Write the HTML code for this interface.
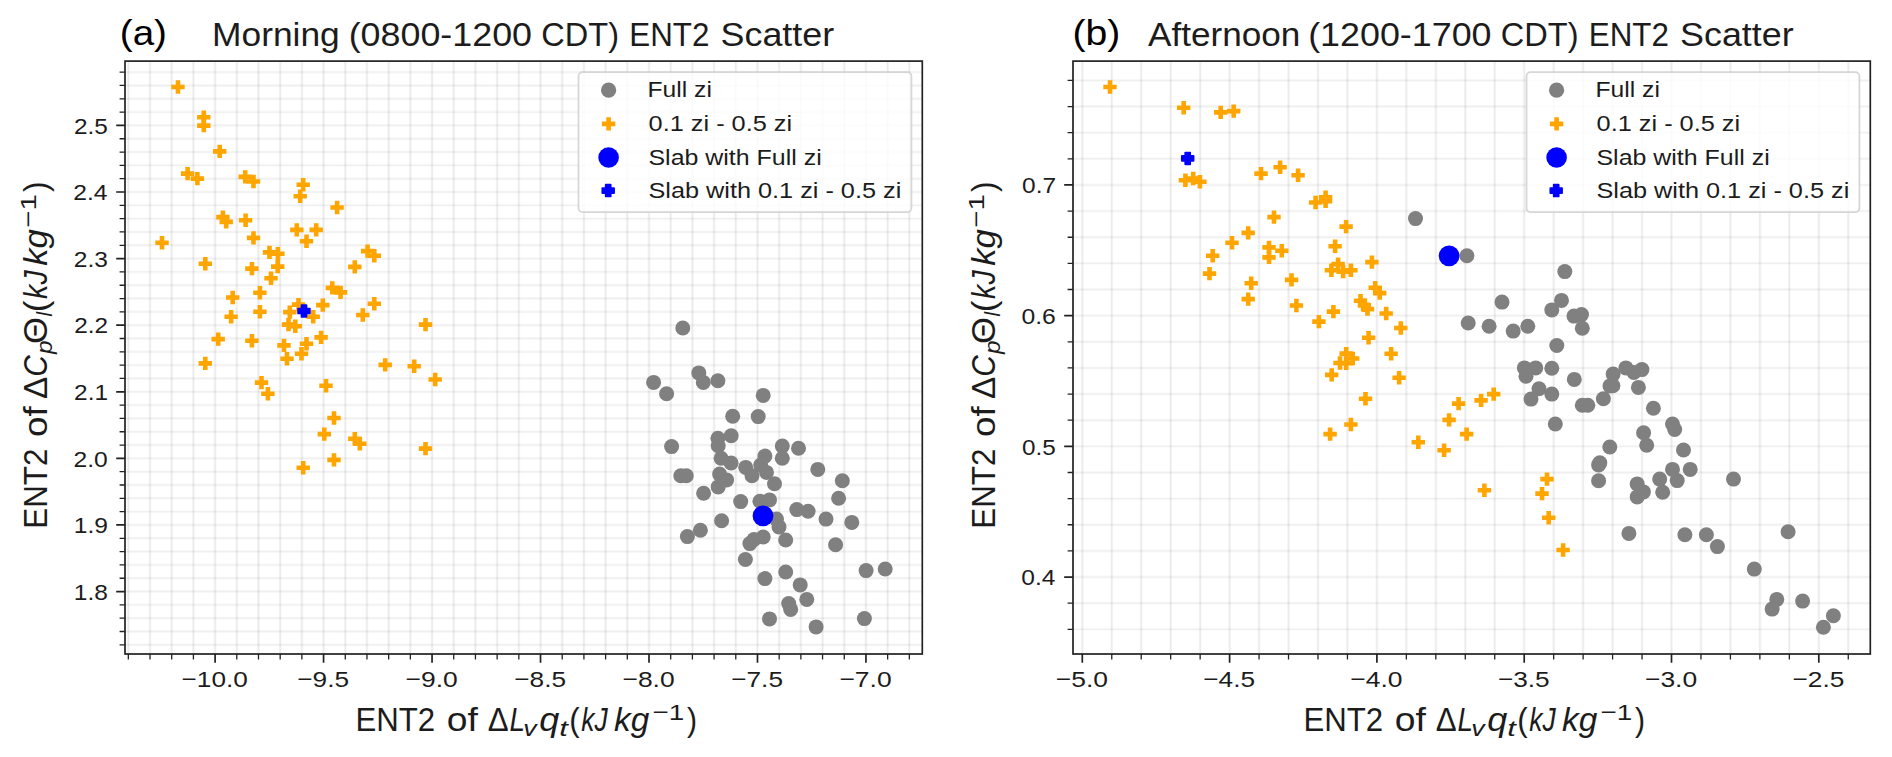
<!DOCTYPE html>
<html><head><meta charset="utf-8"><title>ENT2 Scatter</title>
<style>html,body{margin:0;padding:0;background:#fff}body{width:1892px;height:757px;overflow:hidden;font-family:"Liberation Sans",sans-serif}svg{display:block}</style>
</head><body>
<svg width="1892" height="757" viewBox="0 0 1892 757">
<rect width="1892" height="757" fill="#fff"/>
<g id="chart1">
<clipPath id="clip1"><rect x="125" y="61.1" width="797.3" height="592.9"/></clipPath>
<g clip-path="url(#clip1)">
<path d="M215.1 61.1V654M323.57 61.1V654M432.05 61.1V654M540.52 61.1V654M649 61.1V654M757.48 61.1V654M865.95 61.1V654M128.32 61.1V654M150.01 61.1V654M171.71 61.1V654M193.41 61.1V654M236.79 61.1V654M258.49 61.1V654M280.19 61.1V654M301.88 61.1V654M345.27 61.1V654M366.96 61.1V654M388.66 61.1V654M410.36 61.1V654M453.74 61.1V654M475.44 61.1V654M497.14 61.1V654M518.83 61.1V654M562.22 61.1V654M583.91 61.1V654M605.61 61.1V654M627.31 61.1V654M670.69 61.1V654M692.39 61.1V654M714.08 61.1V654M735.78 61.1V654M779.17 61.1V654M800.87 61.1V654M822.56 61.1V654M844.26 61.1V654M887.64 61.1V654M909.34 61.1V654" stroke="#000" stroke-opacity="0.032" stroke-width="3" fill="none"/><path d="M215.1 61.1V654M323.57 61.1V654M432.05 61.1V654M540.52 61.1V654M649 61.1V654M757.48 61.1V654M865.95 61.1V654M128.32 61.1V654M150.01 61.1V654M171.71 61.1V654M193.41 61.1V654M236.79 61.1V654M258.49 61.1V654M280.19 61.1V654M301.88 61.1V654M345.27 61.1V654M366.96 61.1V654M388.66 61.1V654M410.36 61.1V654M453.74 61.1V654M475.44 61.1V654M497.14 61.1V654M518.83 61.1V654M562.22 61.1V654M583.91 61.1V654M605.61 61.1V654M627.31 61.1V654M670.69 61.1V654M692.39 61.1V654M714.08 61.1V654M735.78 61.1V654M779.17 61.1V654M800.87 61.1V654M822.56 61.1V654M844.26 61.1V654M887.64 61.1V654M909.34 61.1V654" stroke="#000" stroke-opacity="0.048" stroke-width="1.4" fill="none"/>
<path d="M125 591.55H922.3M125 524.96H922.3M125 458.37H922.3M125 391.78H922.3M125 325.19H922.3M125 258.6H922.3M125 192.01H922.3M125 125.42H922.3M125 644.82H922.3M125 631.5H922.3M125 618.19H922.3M125 604.87H922.3M125 578.23H922.3M125 564.91H922.3M125 551.6H922.3M125 538.28H922.3M125 511.64H922.3M125 498.32H922.3M125 485.01H922.3M125 471.69H922.3M125 445.05H922.3M125 431.73H922.3M125 418.42H922.3M125 405.1H922.3M125 378.46H922.3M125 365.14H922.3M125 351.83H922.3M125 338.51H922.3M125 311.87H922.3M125 298.55H922.3M125 285.24H922.3M125 271.92H922.3M125 245.28H922.3M125 231.96H922.3M125 218.65H922.3M125 205.33H922.3M125 178.69H922.3M125 165.37H922.3M125 152.06H922.3M125 138.74H922.3M125 112.1H922.3M125 98.78H922.3M125 85.47H922.3M125 72.15H922.3" stroke="#000" stroke-opacity="0.024" stroke-width="3" fill="none"/><path d="M125 591.55H922.3M125 524.96H922.3M125 458.37H922.3M125 391.78H922.3M125 325.19H922.3M125 258.6H922.3M125 192.01H922.3M125 125.42H922.3M125 644.82H922.3M125 631.5H922.3M125 618.19H922.3M125 604.87H922.3M125 578.23H922.3M125 564.91H922.3M125 551.6H922.3M125 538.28H922.3M125 511.64H922.3M125 498.32H922.3M125 485.01H922.3M125 471.69H922.3M125 445.05H922.3M125 431.73H922.3M125 418.42H922.3M125 405.1H922.3M125 378.46H922.3M125 365.14H922.3M125 351.83H922.3M125 338.51H922.3M125 311.87H922.3M125 298.55H922.3M125 285.24H922.3M125 271.92H922.3M125 245.28H922.3M125 231.96H922.3M125 218.65H922.3M125 205.33H922.3M125 178.69H922.3M125 165.37H922.3M125 152.06H922.3M125 138.74H922.3M125 112.1H922.3M125 98.78H922.3M125 85.47H922.3M125 72.15H922.3" stroke="#000" stroke-opacity="0.034" stroke-width="1.4" fill="none"/>
<g fill="#808080"><circle cx="682.8" cy="328" r="7.5"/><circle cx="698.8" cy="372.9" r="7.5"/><circle cx="653.6" cy="382.4" r="7.5"/><circle cx="703.3" cy="382.4" r="7.5"/><circle cx="717.9" cy="380.8" r="7.5"/><circle cx="666.6" cy="393.7" r="7.5"/><circle cx="763.2" cy="395.4" r="7.5"/><circle cx="732.7" cy="416.2" r="7.5"/><circle cx="758.2" cy="416.6" r="7.5"/><circle cx="731.2" cy="435.8" r="7.5"/><circle cx="717.9" cy="438.3" r="7.5"/><circle cx="718.2" cy="445.8" r="7.5"/><circle cx="671.6" cy="446.6" r="7.5"/><circle cx="782.3" cy="446.1" r="7.5"/><circle cx="798.5" cy="448.3" r="7.5"/><circle cx="764.9" cy="456.1" r="7.5"/><circle cx="782.3" cy="458.3" r="7.5"/><circle cx="721.1" cy="458.3" r="7.5"/><circle cx="731.1" cy="463" r="7.5"/><circle cx="745.7" cy="467.4" r="7.5"/><circle cx="760.7" cy="465" r="7.5"/><circle cx="817.8" cy="469.4" r="7.5"/><circle cx="766.5" cy="472.4" r="7.5"/><circle cx="752" cy="475.8" r="7.5"/><circle cx="719.6" cy="474.1" r="7.5"/><circle cx="680.8" cy="475.8" r="7.5"/><circle cx="686.3" cy="475.8" r="7.5"/><circle cx="726.6" cy="479.9" r="7.5"/><circle cx="842.3" cy="480.8" r="7.5"/><circle cx="774.5" cy="483.8" r="7.5"/><circle cx="718.2" cy="486.9" r="7.5"/><circle cx="703.6" cy="493.3" r="7.5"/><circle cx="838.6" cy="498.3" r="7.5"/><circle cx="740.7" cy="501.6" r="7.5"/><circle cx="759.9" cy="501.2" r="7.5"/><circle cx="769.5" cy="499.9" r="7.5"/><circle cx="796.8" cy="509.6" r="7.5"/><circle cx="808.1" cy="511.2" r="7.5"/><circle cx="776.5" cy="519.1" r="7.5"/><circle cx="826" cy="519.1" r="7.5"/><circle cx="721.6" cy="520.7" r="7.5"/><circle cx="851.8" cy="522.4" r="7.5"/><circle cx="779" cy="526.9" r="7.5"/><circle cx="700.4" cy="530.2" r="7.5"/><circle cx="687.4" cy="536.6" r="7.5"/><circle cx="763.2" cy="537" r="7.5"/><circle cx="754" cy="539.5" r="7.5"/><circle cx="749.9" cy="543.6" r="7.5"/><circle cx="785.7" cy="540" r="7.5"/><circle cx="835.6" cy="544.8" r="7.5"/><circle cx="745.4" cy="559.5" r="7.5"/><circle cx="885.2" cy="569" r="7.5"/><circle cx="866.1" cy="570.6" r="7.5"/><circle cx="785.7" cy="572" r="7.5"/><circle cx="764.9" cy="578.6" r="7.5"/><circle cx="800.2" cy="584.9" r="7.5"/><circle cx="806.8" cy="599.4" r="7.5"/><circle cx="788.7" cy="603.6" r="7.5"/><circle cx="790.7" cy="609.4" r="7.5"/><circle cx="769.5" cy="618.9" r="7.5"/><circle cx="864.4" cy="618.6" r="7.5"/><circle cx="816.1" cy="626.9" r="7.5"/></g>
<g><path d="M175.7 80.3h4.6v4.4h4.4v4.6h-4.4v4.4h-4.6v-4.4h-4.4v-4.6h4.4z" fill="#ffa500"/><path d="M201.5 110.6h4.6v4.4h4.4v4.6h-4.4v4.4h-4.6v-4.4h-4.4v-4.6h4.4z" fill="#ffa500"/><path d="M201.5 118.9h4.6v4.4h4.4v4.6h-4.4v4.4h-4.6v-4.4h-4.4v-4.6h4.4z" fill="#ffa500"/><path d="M217.4 144.7h4.6v4.4h4.4v4.6h-4.4v4.4h-4.6v-4.4h-4.4v-4.6h4.4z" fill="#ffa500"/><path d="M185.3 166.9h4.6v4.4h4.4v4.6h-4.4v4.4h-4.6v-4.4h-4.4v-4.6h4.4z" fill="#ffa500"/><path d="M195.1 171.9h4.6v4.4h4.4v4.6h-4.4v4.4h-4.6v-4.4h-4.4v-4.6h4.4z" fill="#ffa500"/><path d="M242.9 170.2h4.6v4.4h4.4v4.6h-4.4v4.4h-4.6v-4.4h-4.4v-4.6h4.4z" fill="#ffa500"/><path d="M251.2 174.8h4.6v4.4h4.4v4.6h-4.4v4.4h-4.6v-4.4h-4.4v-4.6h4.4z" fill="#ffa500"/><path d="M300.9 178.1h4.6v4.4h4.4v4.6h-4.4v4.4h-4.6v-4.4h-4.4v-4.6h4.4z" fill="#ffa500"/><path d="M297.9 189.6h4.6v4.4h4.4v4.6h-4.4v4.4h-4.6v-4.4h-4.4v-4.6h4.4z" fill="#ffa500"/><path d="M334.8 200.8h4.6v4.4h4.4v4.6h-4.4v4.4h-4.6v-4.4h-4.4v-4.6h4.4z" fill="#ffa500"/><path d="M220.6 210.4h4.6v4.4h4.4v4.6h-4.4v4.4h-4.6v-4.4h-4.4v-4.6h4.4z" fill="#ffa500"/><path d="M223.9 215.2h4.6v4.4h4.4v4.6h-4.4v4.4h-4.6v-4.4h-4.4v-4.6h4.4z" fill="#ffa500"/><path d="M243.3 213.6h4.6v4.4h4.4v4.6h-4.4v4.4h-4.6v-4.4h-4.4v-4.6h4.4z" fill="#ffa500"/><path d="M294.5 223.2h4.6v4.4h4.4v4.6h-4.4v4.4h-4.6v-4.4h-4.4v-4.6h4.4z" fill="#ffa500"/><path d="M313.9 223.2h4.6v4.4h4.4v4.6h-4.4v4.4h-4.6v-4.4h-4.4v-4.6h4.4z" fill="#ffa500"/><path d="M251.2 231.2h4.6v4.4h4.4v4.6h-4.4v4.4h-4.6v-4.4h-4.4v-4.6h4.4z" fill="#ffa500"/><path d="M304.2 234.6h4.6v4.4h4.4v4.6h-4.4v4.4h-4.6v-4.4h-4.4v-4.6h4.4z" fill="#ffa500"/><path d="M159.7 236.1h4.6v4.4h4.4v4.6h-4.4v4.4h-4.6v-4.4h-4.4v-4.6h4.4z" fill="#ffa500"/><path d="M267.2 245.7h4.6v4.4h4.4v4.6h-4.4v4.4h-4.6v-4.4h-4.4v-4.6h4.4z" fill="#ffa500"/><path d="M275.6 247.1h4.6v4.4h4.4v4.6h-4.4v4.4h-4.6v-4.4h-4.4v-4.6h4.4z" fill="#ffa500"/><path d="M365.3 244.4h4.6v4.4h4.4v4.6h-4.4v4.4h-4.6v-4.4h-4.4v-4.6h4.4z" fill="#ffa500"/><path d="M372 249h4.6v4.4h4.4v4.6h-4.4v4.4h-4.6v-4.4h-4.4v-4.6h4.4z" fill="#ffa500"/><path d="M203 257h4.6v4.4h4.4v4.6h-4.4v4.4h-4.6v-4.4h-4.4v-4.6h4.4z" fill="#ffa500"/><path d="M275.4 259.9h4.6v4.4h4.4v4.6h-4.4v4.4h-4.6v-4.4h-4.4v-4.6h4.4z" fill="#ffa500"/><path d="M352.5 260.2h4.6v4.4h4.4v4.6h-4.4v4.4h-4.6v-4.4h-4.4v-4.6h4.4z" fill="#ffa500"/><path d="M249.6 261.9h4.6v4.4h4.4v4.6h-4.4v4.4h-4.6v-4.4h-4.4v-4.6h4.4z" fill="#ffa500"/><path d="M268.7 271.5h4.6v4.4h4.4v4.6h-4.4v4.4h-4.6v-4.4h-4.4v-4.6h4.4z" fill="#ffa500"/><path d="M330 281.2h4.6v4.4h4.4v4.6h-4.4v4.4h-4.6v-4.4h-4.4v-4.6h4.4z" fill="#ffa500"/><path d="M338.3 285.7h4.6v4.4h4.4v4.6h-4.4v4.4h-4.6v-4.4h-4.4v-4.6h4.4z" fill="#ffa500"/><path d="M257.6 286h4.6v4.4h4.4v4.6h-4.4v4.4h-4.6v-4.4h-4.4v-4.6h4.4z" fill="#ffa500"/><path d="M230.4 290.8h4.6v4.4h4.4v4.6h-4.4v4.4h-4.6v-4.4h-4.4v-4.6h4.4z" fill="#ffa500"/><path d="M296.2 297.9h4.6v4.4h4.4v4.6h-4.4v4.4h-4.6v-4.4h-4.4v-4.6h4.4z" fill="#ffa500"/><path d="M320.5 298.4h4.6v4.4h4.4v4.6h-4.4v4.4h-4.6v-4.4h-4.4v-4.6h4.4z" fill="#ffa500"/><path d="M372 297.1h4.6v4.4h4.4v4.6h-4.4v4.4h-4.6v-4.4h-4.4v-4.6h4.4z" fill="#ffa500"/><path d="M257.6 305.1h4.6v4.4h4.4v4.6h-4.4v4.4h-4.6v-4.4h-4.4v-4.6h4.4z" fill="#ffa500"/><path d="M287.5 305.4h4.6v4.4h4.4v4.6h-4.4v4.4h-4.6v-4.4h-4.4v-4.6h4.4z" fill="#ffa500"/><path d="M310.9 310.1h4.6v4.4h4.4v4.6h-4.4v4.4h-4.6v-4.4h-4.4v-4.6h4.4z" fill="#ffa500"/><path d="M228.8 310.1h4.6v4.4h4.4v4.6h-4.4v4.4h-4.6v-4.4h-4.4v-4.6h4.4z" fill="#ffa500"/><path d="M360.5 308.3h4.6v4.4h4.4v4.6h-4.4v4.4h-4.6v-4.4h-4.4v-4.6h4.4z" fill="#ffa500"/><path d="M286.2 317.9h4.6v4.4h4.4v4.6h-4.4v4.4h-4.6v-4.4h-4.4v-4.6h4.4z" fill="#ffa500"/><path d="M293 319.6h4.6v4.4h4.4v4.6h-4.4v4.4h-4.6v-4.4h-4.4v-4.6h4.4z" fill="#ffa500"/><path d="M423.2 317.9h4.6v4.4h4.4v4.6h-4.4v4.4h-4.6v-4.4h-4.4v-4.6h4.4z" fill="#ffa500"/><path d="M318.8 330.7h4.6v4.4h4.4v4.6h-4.4v4.4h-4.6v-4.4h-4.4v-4.6h4.4z" fill="#ffa500"/><path d="M215.9 332.4h4.6v4.4h4.4v4.6h-4.4v4.4h-4.6v-4.4h-4.4v-4.6h4.4z" fill="#ffa500"/><path d="M249.6 334.1h4.6v4.4h4.4v4.6h-4.4v4.4h-4.6v-4.4h-4.4v-4.6h4.4z" fill="#ffa500"/><path d="M304.2 337.1h4.6v4.4h4.4v4.6h-4.4v4.4h-4.6v-4.4h-4.4v-4.6h4.4z" fill="#ffa500"/><path d="M281.7 338.7h4.6v4.4h4.4v4.6h-4.4v4.4h-4.6v-4.4h-4.4v-4.6h4.4z" fill="#ffa500"/><path d="M299.2 347.1h4.6v4.4h4.4v4.6h-4.4v4.4h-4.6v-4.4h-4.4v-4.6h4.4z" fill="#ffa500"/><path d="M284.7 352.1h4.6v4.4h4.4v4.6h-4.4v4.4h-4.6v-4.4h-4.4v-4.6h4.4z" fill="#ffa500"/><path d="M203 356.7h4.6v4.4h4.4v4.6h-4.4v4.4h-4.6v-4.4h-4.4v-4.6h4.4z" fill="#ffa500"/><path d="M382.9 358.2h4.6v4.4h4.4v4.6h-4.4v4.4h-4.6v-4.4h-4.4v-4.6h4.4z" fill="#ffa500"/><path d="M411.9 359.5h4.6v4.4h4.4v4.6h-4.4v4.4h-4.6v-4.4h-4.4v-4.6h4.4z" fill="#ffa500"/><path d="M432.9 372.8h4.6v4.4h4.4v4.6h-4.4v4.4h-4.6v-4.4h-4.4v-4.6h4.4z" fill="#ffa500"/><path d="M259.2 375.9h4.6v4.4h4.4v4.6h-4.4v4.4h-4.6v-4.4h-4.4v-4.6h4.4z" fill="#ffa500"/><path d="M323.7 379h4.6v4.4h4.4v4.6h-4.4v4.4h-4.6v-4.4h-4.4v-4.6h4.4z" fill="#ffa500"/><path d="M265.6 387h4.6v4.4h4.4v4.6h-4.4v4.4h-4.6v-4.4h-4.4v-4.6h4.4z" fill="#ffa500"/><path d="M331.7 411.3h4.6v4.4h4.4v4.6h-4.4v4.4h-4.6v-4.4h-4.4v-4.6h4.4z" fill="#ffa500"/><path d="M322 427.4h4.6v4.4h4.4v4.6h-4.4v4.4h-4.6v-4.4h-4.4v-4.6h4.4z" fill="#ffa500"/><path d="M352.5 432.1h4.6v4.4h4.4v4.6h-4.4v4.4h-4.6v-4.4h-4.4v-4.6h4.4z" fill="#ffa500"/><path d="M357.5 437.1h4.6v4.4h4.4v4.6h-4.4v4.4h-4.6v-4.4h-4.4v-4.6h4.4z" fill="#ffa500"/><path d="M423.2 441.9h4.6v4.4h4.4v4.6h-4.4v4.4h-4.6v-4.4h-4.4v-4.6h4.4z" fill="#ffa500"/><path d="M331.7 453.2h4.6v4.4h4.4v4.6h-4.4v4.4h-4.6v-4.4h-4.4v-4.6h4.4z" fill="#ffa500"/><path d="M300.9 461h4.6v4.4h4.4v4.6h-4.4v4.4h-4.6v-4.4h-4.4v-4.6h4.4z" fill="#ffa500"/></g>
<circle cx="763" cy="515.8" r="10.4" fill="#0000ff"/>
<path d="M301.6 305.2h4.8v3.4h3.4v4.8h-3.4v3.4h-4.8v-3.4h-3.4v-4.8h3.4z" fill="#0000ff" stroke="#0000ff" stroke-width="1.9" stroke-linejoin="round"/>
</g>
<path d="M215.1 654v8.8M323.57 654v8.8M432.05 654v8.8M540.52 654v8.8M649 654v8.8M757.48 654v8.8M865.95 654v8.8M125 591.55h-8.8M125 524.96h-8.8M125 458.37h-8.8M125 391.78h-8.8M125 325.19h-8.8M125 258.6h-8.8M125 192.01h-8.8M125 125.42h-8.8" stroke="#222" stroke-width="1.7" fill="none"/>
<path d="M128.32 654v5.4M150.01 654v5.4M171.71 654v5.4M193.41 654v5.4M236.79 654v5.4M258.49 654v5.4M280.19 654v5.4M301.88 654v5.4M345.27 654v5.4M366.96 654v5.4M388.66 654v5.4M410.36 654v5.4M453.74 654v5.4M475.44 654v5.4M497.14 654v5.4M518.83 654v5.4M562.22 654v5.4M583.91 654v5.4M605.61 654v5.4M627.31 654v5.4M670.69 654v5.4M692.39 654v5.4M714.08 654v5.4M735.78 654v5.4M779.17 654v5.4M800.87 654v5.4M822.56 654v5.4M844.26 654v5.4M887.64 654v5.4M909.34 654v5.4M125 644.82h-5.4M125 631.5h-5.4M125 618.19h-5.4M125 604.87h-5.4M125 578.23h-5.4M125 564.91h-5.4M125 551.6h-5.4M125 538.28h-5.4M125 511.64h-5.4M125 498.32h-5.4M125 485.01h-5.4M125 471.69h-5.4M125 445.05h-5.4M125 431.73h-5.4M125 418.42h-5.4M125 405.1h-5.4M125 378.46h-5.4M125 365.14h-5.4M125 351.83h-5.4M125 338.51h-5.4M125 311.87h-5.4M125 298.55h-5.4M125 285.24h-5.4M125 271.92h-5.4M125 245.28h-5.4M125 231.96h-5.4M125 218.65h-5.4M125 205.33h-5.4M125 178.69h-5.4M125 165.37h-5.4M125 152.06h-5.4M125 138.74h-5.4M125 112.1h-5.4M125 98.78h-5.4M125 85.47h-5.4M125 72.15h-5.4" stroke="#222" stroke-width="1.3" fill="none"/>
<rect x="125" y="61.1" width="797.3" height="592.9" fill="none" stroke="#222" stroke-width="1.7"/>
<text x="181.55" y="686.9" font-family="Liberation Sans, sans-serif" font-size="22.7" fill="#1c1c1c" textLength="66.23" lengthAdjust="spacingAndGlyphs">−10.0</text>
<text x="297.29" y="686.9" font-family="Liberation Sans, sans-serif" font-size="22.7" fill="#1c1c1c" textLength="51.79" lengthAdjust="spacingAndGlyphs">−9.5</text>
<text x="405.52" y="686.9" font-family="Liberation Sans, sans-serif" font-size="22.7" fill="#1c1c1c" textLength="52.19" lengthAdjust="spacingAndGlyphs">−9.0</text>
<text x="514.24" y="686.9" font-family="Liberation Sans, sans-serif" font-size="22.7" fill="#1c1c1c" textLength="51.79" lengthAdjust="spacingAndGlyphs">−8.5</text>
<text x="622.47" y="686.9" font-family="Liberation Sans, sans-serif" font-size="22.7" fill="#1c1c1c" textLength="52.19" lengthAdjust="spacingAndGlyphs">−8.0</text>
<text x="731.19" y="686.9" font-family="Liberation Sans, sans-serif" font-size="22.7" fill="#1c1c1c" textLength="51.79" lengthAdjust="spacingAndGlyphs">−7.5</text>
<text x="839.42" y="686.9" font-family="Liberation Sans, sans-serif" font-size="22.7" fill="#1c1c1c" textLength="52.19" lengthAdjust="spacingAndGlyphs">−7.0</text>
<text x="73.72" y="599.75" font-family="Liberation Sans, sans-serif" font-size="22.7" fill="#1c1c1c" textLength="34.15" lengthAdjust="spacingAndGlyphs">1.8</text>
<text x="73.77" y="533.16" font-family="Liberation Sans, sans-serif" font-size="22.7" fill="#1c1c1c" textLength="34.2" lengthAdjust="spacingAndGlyphs">1.9</text>
<text x="73.5" y="466.57" font-family="Liberation Sans, sans-serif" font-size="22.7" fill="#1c1c1c" textLength="34.26" lengthAdjust="spacingAndGlyphs">2.0</text>
<text x="74.08" y="399.98" font-family="Liberation Sans, sans-serif" font-size="22.7" fill="#1c1c1c" textLength="33.91" lengthAdjust="spacingAndGlyphs">2.1</text>
<text x="74.26" y="333.39" font-family="Liberation Sans, sans-serif" font-size="22.7" fill="#1c1c1c" textLength="33.76" lengthAdjust="spacingAndGlyphs">2.2</text>
<text x="73.81" y="266.8" font-family="Liberation Sans, sans-serif" font-size="22.7" fill="#1c1c1c" textLength="34.07" lengthAdjust="spacingAndGlyphs">2.3</text>
<text x="73.27" y="200.21" font-family="Liberation Sans, sans-serif" font-size="22.7" fill="#1c1c1c" textLength="34.25" lengthAdjust="spacingAndGlyphs">2.4</text>
<text x="73.98" y="133.62" font-family="Liberation Sans, sans-serif" font-size="22.7" fill="#1c1c1c" textLength="33.85" lengthAdjust="spacingAndGlyphs">2.5</text>
<text x="119.81" y="44.5" font-family="Liberation Sans, sans-serif" font-size="35.2" fill="#000" textLength="47.19" lengthAdjust="spacingAndGlyphs">(a)</text>
<text x="212" y="45.8" font-family="Liberation Sans, sans-serif" font-size="32.4" fill="#1c1c1c" textLength="127.78" lengthAdjust="spacingAndGlyphs">Morning</text>
<text x="348.68" y="45.8" font-family="Liberation Sans, sans-serif" font-size="32.4" fill="#1c1c1c" textLength="183.32" lengthAdjust="spacingAndGlyphs">(0800-1200</text>
<text x="541.35" y="45.8" font-family="Liberation Sans, sans-serif" font-size="32.4" fill="#1c1c1c" textLength="77.67" lengthAdjust="spacingAndGlyphs">CDT)</text>
<text x="629.23" y="45.8" font-family="Liberation Sans, sans-serif" font-size="32.4" fill="#1c1c1c" textLength="80.15" lengthAdjust="spacingAndGlyphs">ENT2</text>
<text x="720.57" y="45.8" font-family="Liberation Sans, sans-serif" font-size="32.4" fill="#1c1c1c" textLength="113.62" lengthAdjust="spacingAndGlyphs">Scatter</text>
<text x="355.44" y="731" font-family="Liberation Sans, sans-serif" font-size="32.4" fill="#1c1c1c" textLength="79.73" lengthAdjust="spacingAndGlyphs">ENT2</text>
<text x="446.83" y="731" font-family="Liberation Sans, sans-serif" font-size="32.4" fill="#1c1c1c" textLength="31.11" lengthAdjust="spacingAndGlyphs">of</text>
<text x="487.67" y="731" font-family="Liberation Sans, sans-serif" font-size="32.4" fill="#1c1c1c" textLength="20.88" lengthAdjust="spacingAndGlyphs">Δ</text>
<text x="509.44" y="731" font-family="Liberation Sans, sans-serif" font-size="32.4" font-style="italic" fill="#1c1c1c" textLength="15.5" lengthAdjust="spacingAndGlyphs">L</text>
<text x="523.34" y="736.4" font-family="Liberation Sans, sans-serif" font-size="22.6" font-style="italic" fill="#1c1c1c" textLength="13.38" lengthAdjust="spacingAndGlyphs">v</text>
<text x="539.38" y="731" font-family="Liberation Sans, sans-serif" font-size="32.4" font-style="italic" fill="#1c1c1c" textLength="20.06" lengthAdjust="spacingAndGlyphs">q</text>
<text x="559.19" y="736.4" font-family="Liberation Sans, sans-serif" font-size="22.6" font-style="italic" fill="#1c1c1c" textLength="8.63" lengthAdjust="spacingAndGlyphs">t</text>
<text x="569.26" y="731" font-family="Liberation Sans, sans-serif" font-size="32.4" fill="#1c1c1c" textLength="10.42" lengthAdjust="spacingAndGlyphs">(</text>
<text x="581.36" y="731" font-family="Liberation Sans, sans-serif" font-size="32.4" font-style="italic" fill="#1c1c1c" textLength="26.43" lengthAdjust="spacingAndGlyphs">kJ</text>
<text x="614.05" y="731" font-family="Liberation Sans, sans-serif" font-size="32.4" font-style="italic" fill="#1c1c1c" textLength="35.25" lengthAdjust="spacingAndGlyphs">kg</text>
<text x="652.63" y="720.2" font-family="Liberation Sans, sans-serif" font-size="22.6" fill="#1c1c1c" textLength="31.73" lengthAdjust="spacingAndGlyphs">−1</text>
<text x="687.12" y="731" font-family="Liberation Sans, sans-serif" font-size="32.4" fill="#1c1c1c" textLength="10.05" lengthAdjust="spacingAndGlyphs">)</text>
<g transform="translate(46.9 526.4) rotate(-90)">
<text x="-2.27" y="0" font-family="Liberation Sans, sans-serif" font-size="32.4" fill="#1c1c1c" textLength="79.94" lengthAdjust="spacingAndGlyphs">ENT2</text>
<text x="89.45" y="0" font-family="Liberation Sans, sans-serif" font-size="32.4" fill="#1c1c1c" textLength="30.8" lengthAdjust="spacingAndGlyphs">of</text>
<text x="127.51" y="0" font-family="Liberation Sans, sans-serif" font-size="32.4" fill="#1c1c1c" textLength="22.31" lengthAdjust="spacingAndGlyphs">Δ</text>
<text x="149.65" y="0" font-family="Liberation Sans, sans-serif" font-size="32.4" font-style="italic" fill="#1c1c1c" textLength="21.59" lengthAdjust="spacingAndGlyphs">C</text>
<text x="172.41" y="5.4" font-family="Liberation Sans, sans-serif" font-size="22.6" font-style="italic" fill="#1c1c1c" textLength="13.58" lengthAdjust="spacingAndGlyphs">p</text>
<text x="182.36" y="0" font-family="Liberation Sans, sans-serif" font-size="32.4" fill="#1c1c1c" textLength="26.89" lengthAdjust="spacingAndGlyphs">Θ</text>
<text x="209.88" y="5.4" font-family="Liberation Sans, sans-serif" font-size="22.6" font-style="italic" fill="#1c1c1c" textLength="4.47" lengthAdjust="spacingAndGlyphs">l</text>
<text x="214.12" y="0" font-family="Liberation Sans, sans-serif" font-size="32.4" fill="#1c1c1c" textLength="11.68" lengthAdjust="spacingAndGlyphs">(</text>
<text x="227.52" y="0" font-family="Liberation Sans, sans-serif" font-size="32.4" font-style="italic" fill="#1c1c1c" textLength="28.65" lengthAdjust="spacingAndGlyphs">kJ</text>
<text x="260.62" y="0" font-family="Liberation Sans, sans-serif" font-size="32.4" font-style="italic" fill="#1c1c1c" textLength="36.68" lengthAdjust="spacingAndGlyphs">kg</text>
<text x="298.75" y="-10.8" font-family="Liberation Sans, sans-serif" font-size="22.6" fill="#1c1c1c" textLength="33.48" lengthAdjust="spacingAndGlyphs">−1</text>
<text x="334.41" y="0" font-family="Liberation Sans, sans-serif" font-size="32.4" fill="#1c1c1c" textLength="10.55" lengthAdjust="spacingAndGlyphs">)</text>
</g>
<rect x="578.5" y="72.1" width="332.9" height="140.0" rx="4" ry="4" fill="#fff" fill-opacity="0.8" stroke="#ccc" stroke-opacity="0.8" stroke-width="1.8"/>
<circle cx="608.6" cy="90.2" r="7.6" fill="#808080"/>
<path d="M606.3 117.2h4.6v4.4h4.4v4.6h-4.4v4.4h-4.6v-4.4h-4.4v-4.6h4.4z" fill="#ffa500"/>
<circle cx="608.6" cy="157.5" r="10.3" fill="#0000ff"/>
<path d="M605.8 184.8h4.8v3.4h3.4v4.8h-3.4v3.4h-4.8v-3.4h-3.4v-4.8h3.4z" fill="#0000ff" stroke="#0000ff" stroke-width="1.9" stroke-linejoin="round"/>
<text x="647.58" y="97" font-family="Liberation Sans, sans-serif" font-size="22.7" fill="#1c1c1c" textLength="64.28" lengthAdjust="spacingAndGlyphs">Full zi</text>
<text x="648.61" y="130.8" font-family="Liberation Sans, sans-serif" font-size="22.7" fill="#1c1c1c" textLength="143.49" lengthAdjust="spacingAndGlyphs">0.1 zi - 0.5 zi</text>
<text x="648.47" y="164.5" font-family="Liberation Sans, sans-serif" font-size="22.7" fill="#1c1c1c" textLength="173.21" lengthAdjust="spacingAndGlyphs">Slab with Full zi</text>
<text x="648.45" y="198" font-family="Liberation Sans, sans-serif" font-size="22.7" fill="#1c1c1c" textLength="252.85" lengthAdjust="spacingAndGlyphs">Slab with 0.1 zi - 0.5 zi</text>
</g>
<g id="chart2">
<clipPath id="clip2"><rect x="1073" y="61.1" width="797.3" height="592.9"/></clipPath>
<g clip-path="url(#clip2)">
<path d="M1082.3 61.1V654M1229.6 61.1V654M1376.9 61.1V654M1524.2 61.1V654M1671.5 61.1V654M1818.8 61.1V654M1111.76 61.1V654M1141.22 61.1V654M1170.68 61.1V654M1200.14 61.1V654M1259.06 61.1V654M1288.52 61.1V654M1317.98 61.1V654M1347.44 61.1V654M1406.36 61.1V654M1435.82 61.1V654M1465.28 61.1V654M1494.74 61.1V654M1553.66 61.1V654M1583.12 61.1V654M1612.58 61.1V654M1642.04 61.1V654M1700.96 61.1V654M1730.42 61.1V654M1759.88 61.1V654M1789.34 61.1V654M1848.26 61.1V654" stroke="#000" stroke-opacity="0.032" stroke-width="3" fill="none"/><path d="M1082.3 61.1V654M1229.6 61.1V654M1376.9 61.1V654M1524.2 61.1V654M1671.5 61.1V654M1818.8 61.1V654M1111.76 61.1V654M1141.22 61.1V654M1170.68 61.1V654M1200.14 61.1V654M1259.06 61.1V654M1288.52 61.1V654M1317.98 61.1V654M1347.44 61.1V654M1406.36 61.1V654M1435.82 61.1V654M1465.28 61.1V654M1494.74 61.1V654M1553.66 61.1V654M1583.12 61.1V654M1612.58 61.1V654M1642.04 61.1V654M1700.96 61.1V654M1730.42 61.1V654M1759.88 61.1V654M1789.34 61.1V654M1848.26 61.1V654" stroke="#000" stroke-opacity="0.048" stroke-width="1.4" fill="none"/>
<path d="M1073 577.05H1870.3M1073 446.35H1870.3M1073 315.65H1870.3M1073 184.95H1870.3M1073 629.33H1870.3M1073 603.19H1870.3M1073 550.91H1870.3M1073 524.77H1870.3M1073 498.63H1870.3M1073 472.49H1870.3M1073 420.21H1870.3M1073 394.07H1870.3M1073 367.93H1870.3M1073 341.79H1870.3M1073 289.51H1870.3M1073 263.37H1870.3M1073 237.23H1870.3M1073 211.09H1870.3M1073 158.81H1870.3M1073 132.67H1870.3M1073 106.53H1870.3M1073 80.39H1870.3" stroke="#000" stroke-opacity="0.024" stroke-width="3" fill="none"/><path d="M1073 577.05H1870.3M1073 446.35H1870.3M1073 315.65H1870.3M1073 184.95H1870.3M1073 629.33H1870.3M1073 603.19H1870.3M1073 550.91H1870.3M1073 524.77H1870.3M1073 498.63H1870.3M1073 472.49H1870.3M1073 420.21H1870.3M1073 394.07H1870.3M1073 367.93H1870.3M1073 341.79H1870.3M1073 289.51H1870.3M1073 263.37H1870.3M1073 237.23H1870.3M1073 211.09H1870.3M1073 158.81H1870.3M1073 132.67H1870.3M1073 106.53H1870.3M1073 80.39H1870.3" stroke="#000" stroke-opacity="0.034" stroke-width="1.4" fill="none"/>
<g fill="#808080"><circle cx="1415.5" cy="218.6" r="7.5"/><circle cx="1466.9" cy="255.8" r="7.5"/><circle cx="1564.8" cy="271.6" r="7.5"/><circle cx="1561.5" cy="300.4" r="7.5"/><circle cx="1502" cy="302.1" r="7.5"/><circle cx="1551.8" cy="309.9" r="7.5"/><circle cx="1581.5" cy="314.6" r="7.5"/><circle cx="1574" cy="316.1" r="7.5"/><circle cx="1468.2" cy="323" r="7.5"/><circle cx="1489.1" cy="326.3" r="7.5"/><circle cx="1513.2" cy="331.1" r="7.5"/><circle cx="1527.8" cy="326.3" r="7.5"/><circle cx="1582.3" cy="328.3" r="7.5"/><circle cx="1556.8" cy="345.5" r="7.5"/><circle cx="1524.4" cy="367.9" r="7.5"/><circle cx="1535.7" cy="367.9" r="7.5"/><circle cx="1551.8" cy="368.3" r="7.5"/><circle cx="1526" cy="376.3" r="7.5"/><circle cx="1574.3" cy="379.4" r="7.5"/><circle cx="1625.9" cy="367.9" r="7.5"/><circle cx="1641.9" cy="369.6" r="7.5"/><circle cx="1633.9" cy="372.4" r="7.5"/><circle cx="1613.1" cy="374.1" r="7.5"/><circle cx="1539" cy="388.7" r="7.5"/><circle cx="1610" cy="385.9" r="7.5"/><circle cx="1612.9" cy="385.7" r="7.5"/><circle cx="1638.4" cy="387.4" r="7.5"/><circle cx="1551.8" cy="394.1" r="7.5"/><circle cx="1531" cy="399.1" r="7.5"/><circle cx="1603.4" cy="398.7" r="7.5"/><circle cx="1582.3" cy="405.2" r="7.5"/><circle cx="1587.8" cy="405.2" r="7.5"/><circle cx="1653.4" cy="408.2" r="7.5"/><circle cx="1555.3" cy="424" r="7.5"/><circle cx="1672.5" cy="424" r="7.5"/><circle cx="1674.7" cy="429.5" r="7.5"/><circle cx="1643.6" cy="432.8" r="7.5"/><circle cx="1609.8" cy="447" r="7.5"/><circle cx="1646.7" cy="445.3" r="7.5"/><circle cx="1683.5" cy="450" r="7.5"/><circle cx="1599.8" cy="462.8" r="7.5"/><circle cx="1598.6" cy="464.9" r="7.5"/><circle cx="1598.6" cy="480.8" r="7.5"/><circle cx="1672.5" cy="469.4" r="7.5"/><circle cx="1690.2" cy="469.4" r="7.5"/><circle cx="1659.7" cy="479.1" r="7.5"/><circle cx="1677.2" cy="480.6" r="7.5"/><circle cx="1637.2" cy="483.9" r="7.5"/><circle cx="1643.4" cy="491.9" r="7.5"/><circle cx="1662.7" cy="492.3" r="7.5"/><circle cx="1637.2" cy="496.9" r="7.5"/><circle cx="1628.9" cy="533.4" r="7.5"/><circle cx="1684.9" cy="534.8" r="7.5"/><circle cx="1733.5" cy="479.1" r="7.5"/><circle cx="1706.4" cy="534.8" r="7.5"/><circle cx="1788.1" cy="531.8" r="7.5"/><circle cx="1717.4" cy="546.6" r="7.5"/><circle cx="1754.3" cy="569.1" r="7.5"/><circle cx="1776.8" cy="599.4" r="7.5"/><circle cx="1802.6" cy="601.1" r="7.5"/><circle cx="1772.1" cy="609.1" r="7.5"/><circle cx="1833.4" cy="615.7" r="7.5"/><circle cx="1823.4" cy="627.2" r="7.5"/></g>
<g><path d="M1107.7 80.3h4.6v4.4h4.4v4.6h-4.4v4.4h-4.6v-4.4h-4.4v-4.6h4.4z" fill="#ffa500"/><path d="M1181.4 101.1h4.6v4.4h4.4v4.6h-4.4v4.4h-4.6v-4.4h-4.4v-4.6h4.4z" fill="#ffa500"/><path d="M1218.4 105.7h4.6v4.4h4.4v4.6h-4.4v4.4h-4.6v-4.4h-4.4v-4.6h4.4z" fill="#ffa500"/><path d="M1231.4 104.4h4.6v4.4h4.4v4.6h-4.4v4.4h-4.6v-4.4h-4.4v-4.6h4.4z" fill="#ffa500"/><path d="M1277.8 160.5h4.6v4.4h4.4v4.6h-4.4v4.4h-4.6v-4.4h-4.4v-4.6h4.4z" fill="#ffa500"/><path d="M1258.7 166.9h4.6v4.4h4.4v4.6h-4.4v4.4h-4.6v-4.4h-4.4v-4.6h4.4z" fill="#ffa500"/><path d="M1295.8 168.5h4.6v4.4h4.4v4.6h-4.4v4.4h-4.6v-4.4h-4.4v-4.6h4.4z" fill="#ffa500"/><path d="M1183.1 173.5h4.6v4.4h4.4v4.6h-4.4v4.4h-4.6v-4.4h-4.4v-4.6h4.4z" fill="#ffa500"/><path d="M1190.9 171.8h4.6v4.4h4.4v4.6h-4.4v4.4h-4.6v-4.4h-4.4v-4.6h4.4z" fill="#ffa500"/><path d="M1197.6 175h4.6v4.4h4.4v4.6h-4.4v4.4h-4.6v-4.4h-4.4v-4.6h4.4z" fill="#ffa500"/><path d="M1313.3 195.8h4.6v4.4h4.4v4.6h-4.4v4.4h-4.6v-4.4h-4.4v-4.6h4.4z" fill="#ffa500"/><path d="M1323.3 190.6h4.6v4.4h4.4v4.6h-4.4v4.4h-4.6v-4.4h-4.4v-4.6h4.4z" fill="#ffa500"/><path d="M1323.3 194.6h4.6v4.4h4.4v4.6h-4.4v4.4h-4.6v-4.4h-4.4v-4.6h4.4z" fill="#ffa500"/><path d="M1271.7 210.4h4.6v4.4h4.4v4.6h-4.4v4.4h-4.6v-4.4h-4.4v-4.6h4.4z" fill="#ffa500"/><path d="M1343.8 219.9h4.6v4.4h4.4v4.6h-4.4v4.4h-4.6v-4.4h-4.4v-4.6h4.4z" fill="#ffa500"/><path d="M1245.9 226.2h4.6v4.4h4.4v4.6h-4.4v4.4h-4.6v-4.4h-4.4v-4.6h4.4z" fill="#ffa500"/><path d="M1229.7 236.1h4.6v4.4h4.4v4.6h-4.4v4.4h-4.6v-4.4h-4.4v-4.6h4.4z" fill="#ffa500"/><path d="M1266.7 240.7h4.6v4.4h4.4v4.6h-4.4v4.4h-4.6v-4.4h-4.4v-4.6h4.4z" fill="#ffa500"/><path d="M1279.5 244.1h4.6v4.4h4.4v4.6h-4.4v4.4h-4.6v-4.4h-4.4v-4.6h4.4z" fill="#ffa500"/><path d="M1332.8 239.6h4.6v4.4h4.4v4.6h-4.4v4.4h-4.6v-4.4h-4.4v-4.6h4.4z" fill="#ffa500"/><path d="M1210.4 249h4.6v4.4h4.4v4.6h-4.4v4.4h-4.6v-4.4h-4.4v-4.6h4.4z" fill="#ffa500"/><path d="M1266.7 250.7h4.6v4.4h4.4v4.6h-4.4v4.4h-4.6v-4.4h-4.4v-4.6h4.4z" fill="#ffa500"/><path d="M1369.6 255.4h4.6v4.4h4.4v4.6h-4.4v4.4h-4.6v-4.4h-4.4v-4.6h4.4z" fill="#ffa500"/><path d="M1335.8 257.4h4.6v4.4h4.4v4.6h-4.4v4.4h-4.6v-4.4h-4.4v-4.6h4.4z" fill="#ffa500"/><path d="M1329.1 263.5h4.6v4.4h4.4v4.6h-4.4v4.4h-4.6v-4.4h-4.4v-4.6h4.4z" fill="#ffa500"/><path d="M1340.8 264.9h4.6v4.4h4.4v4.6h-4.4v4.4h-4.6v-4.4h-4.4v-4.6h4.4z" fill="#ffa500"/><path d="M1348.6 263.5h4.6v4.4h4.4v4.6h-4.4v4.4h-4.6v-4.4h-4.4v-4.6h4.4z" fill="#ffa500"/><path d="M1207.2 266.9h4.6v4.4h4.4v4.6h-4.4v4.4h-4.6v-4.4h-4.4v-4.6h4.4z" fill="#ffa500"/><path d="M1289.2 273.2h4.6v4.4h4.4v4.6h-4.4v4.4h-4.6v-4.4h-4.4v-4.6h4.4z" fill="#ffa500"/><path d="M1248.9 276.5h4.6v4.4h4.4v4.6h-4.4v4.4h-4.6v-4.4h-4.4v-4.6h4.4z" fill="#ffa500"/><path d="M1372.9 281h4.6v4.4h4.4v4.6h-4.4v4.4h-4.6v-4.4h-4.4v-4.6h4.4z" fill="#ffa500"/><path d="M1377.4 286.4h4.6v4.4h4.4v4.6h-4.4v4.4h-4.6v-4.4h-4.4v-4.6h4.4z" fill="#ffa500"/><path d="M1245.9 292.4h4.6v4.4h4.4v4.6h-4.4v4.4h-4.6v-4.4h-4.4v-4.6h4.4z" fill="#ffa500"/><path d="M1294.1 298.8h4.6v4.4h4.4v4.6h-4.4v4.4h-4.6v-4.4h-4.4v-4.6h4.4z" fill="#ffa500"/><path d="M1358.2 294.1h4.6v4.4h4.4v4.6h-4.4v4.4h-4.6v-4.4h-4.4v-4.6h4.4z" fill="#ffa500"/><path d="M1362.1 298.6h4.6v4.4h4.4v4.6h-4.4v4.4h-4.6v-4.4h-4.4v-4.6h4.4z" fill="#ffa500"/><path d="M1365.2 302.4h4.6v4.4h4.4v4.6h-4.4v4.4h-4.6v-4.4h-4.4v-4.6h4.4z" fill="#ffa500"/><path d="M1331.1 304.9h4.6v4.4h4.4v4.6h-4.4v4.4h-4.6v-4.4h-4.4v-4.6h4.4z" fill="#ffa500"/><path d="M1383.9 306.8h4.6v4.4h4.4v4.6h-4.4v4.4h-4.6v-4.4h-4.4v-4.6h4.4z" fill="#ffa500"/><path d="M1316.6 314.9h4.6v4.4h4.4v4.6h-4.4v4.4h-4.6v-4.4h-4.4v-4.6h4.4z" fill="#ffa500"/><path d="M1366.3 331h4.6v4.4h4.4v4.6h-4.4v4.4h-4.6v-4.4h-4.4v-4.6h4.4z" fill="#ffa500"/><path d="M1343.9 346.9h4.6v4.4h4.4v4.6h-4.4v4.4h-4.6v-4.4h-4.4v-4.6h4.4z" fill="#ffa500"/><path d="M1350.4 351.8h4.6v4.4h4.4v4.6h-4.4v4.4h-4.6v-4.4h-4.4v-4.6h4.4z" fill="#ffa500"/><path d="M1337.7 356.3h4.6v4.4h4.4v4.6h-4.4v4.4h-4.6v-4.4h-4.4v-4.6h4.4z" fill="#ffa500"/><path d="M1343.9 356.6h4.6v4.4h4.4v4.6h-4.4v4.4h-4.6v-4.4h-4.4v-4.6h4.4z" fill="#ffa500"/><path d="M1388.8 347.1h4.6v4.4h4.4v4.6h-4.4v4.4h-4.6v-4.4h-4.4v-4.6h4.4z" fill="#ffa500"/><path d="M1329.4 368.2h4.6v4.4h4.4v4.6h-4.4v4.4h-4.6v-4.4h-4.4v-4.6h4.4z" fill="#ffa500"/><path d="M1363.2 392h4.6v4.4h4.4v4.6h-4.4v4.4h-4.6v-4.4h-4.4v-4.6h4.4z" fill="#ffa500"/><path d="M1348.6 417.8h4.6v4.4h4.4v4.6h-4.4v4.4h-4.6v-4.4h-4.4v-4.6h4.4z" fill="#ffa500"/><path d="M1327.8 427.4h4.6v4.4h4.4v4.6h-4.4v4.4h-4.6v-4.4h-4.4v-4.6h4.4z" fill="#ffa500"/><path d="M1398.5 321.3h4.6v4.4h4.4v4.6h-4.4v4.4h-4.6v-4.4h-4.4v-4.6h4.4z" fill="#ffa500"/><path d="M1396.8 371.1h4.6v4.4h4.4v4.6h-4.4v4.4h-4.6v-4.4h-4.4v-4.6h4.4z" fill="#ffa500"/><path d="M1491.4 387.4h4.6v4.4h4.4v4.6h-4.4v4.4h-4.6v-4.4h-4.4v-4.6h4.4z" fill="#ffa500"/><path d="M1478.8 393.7h4.6v4.4h4.4v4.6h-4.4v4.4h-4.6v-4.4h-4.4v-4.6h4.4z" fill="#ffa500"/><path d="M1456.3 396.9h4.6v4.4h4.4v4.6h-4.4v4.4h-4.6v-4.4h-4.4v-4.6h4.4z" fill="#ffa500"/><path d="M1446.8 413.2h4.6v4.4h4.4v4.6h-4.4v4.4h-4.6v-4.4h-4.4v-4.6h4.4z" fill="#ffa500"/><path d="M1464.3 427.4h4.6v4.4h4.4v4.6h-4.4v4.4h-4.6v-4.4h-4.4v-4.6h4.4z" fill="#ffa500"/><path d="M1416 435.6h4.6v4.4h4.4v4.6h-4.4v4.4h-4.6v-4.4h-4.4v-4.6h4.4z" fill="#ffa500"/><path d="M1441.8 443.6h4.6v4.4h4.4v4.6h-4.4v4.4h-4.6v-4.4h-4.4v-4.6h4.4z" fill="#ffa500"/><path d="M1544.7 472.4h4.6v4.4h4.4v4.6h-4.4v4.4h-4.6v-4.4h-4.4v-4.6h4.4z" fill="#ffa500"/><path d="M1482.1 483.6h4.6v4.4h4.4v4.6h-4.4v4.4h-4.6v-4.4h-4.4v-4.6h4.4z" fill="#ffa500"/><path d="M1539.7 486.9h4.6v4.4h4.4v4.6h-4.4v4.4h-4.6v-4.4h-4.4v-4.6h4.4z" fill="#ffa500"/><path d="M1546.4 511h4.6v4.4h4.4v4.6h-4.4v4.4h-4.6v-4.4h-4.4v-4.6h4.4z" fill="#ffa500"/><path d="M1560.8 543.3h4.6v4.4h4.4v4.6h-4.4v4.4h-4.6v-4.4h-4.4v-4.6h4.4z" fill="#ffa500"/></g>
<circle cx="1449.1" cy="255.8" r="10.4" fill="#0000ff"/>
<path d="M1185.3 152.6h4.8v3.4h3.4v4.8h-3.4v3.4h-4.8v-3.4h-3.4v-4.8h3.4z" fill="#0000ff" stroke="#0000ff" stroke-width="1.9" stroke-linejoin="round"/>
</g>
<path d="M1082.3 654v8.8M1229.6 654v8.8M1376.9 654v8.8M1524.2 654v8.8M1671.5 654v8.8M1818.8 654v8.8M1073 577.05h-8.8M1073 446.35h-8.8M1073 315.65h-8.8M1073 184.95h-8.8" stroke="#222" stroke-width="1.7" fill="none"/>
<path d="M1111.76 654v5.4M1141.22 654v5.4M1170.68 654v5.4M1200.14 654v5.4M1259.06 654v5.4M1288.52 654v5.4M1317.98 654v5.4M1347.44 654v5.4M1406.36 654v5.4M1435.82 654v5.4M1465.28 654v5.4M1494.74 654v5.4M1553.66 654v5.4M1583.12 654v5.4M1612.58 654v5.4M1642.04 654v5.4M1700.96 654v5.4M1730.42 654v5.4M1759.88 654v5.4M1789.34 654v5.4M1848.26 654v5.4M1073 629.33h-5.4M1073 603.19h-5.4M1073 550.91h-5.4M1073 524.77h-5.4M1073 498.63h-5.4M1073 472.49h-5.4M1073 420.21h-5.4M1073 394.07h-5.4M1073 367.93h-5.4M1073 341.79h-5.4M1073 289.51h-5.4M1073 263.37h-5.4M1073 237.23h-5.4M1073 211.09h-5.4M1073 158.81h-5.4M1073 132.67h-5.4M1073 106.53h-5.4M1073 80.39h-5.4" stroke="#222" stroke-width="1.3" fill="none"/>
<rect x="1073" y="61.1" width="797.3" height="592.9" fill="none" stroke="#222" stroke-width="1.7"/>
<text x="1055.77" y="686.9" font-family="Liberation Sans, sans-serif" font-size="22.7" fill="#1c1c1c" textLength="52.19" lengthAdjust="spacingAndGlyphs">−5.0</text>
<text x="1203.31" y="686.9" font-family="Liberation Sans, sans-serif" font-size="22.7" fill="#1c1c1c" textLength="51.79" lengthAdjust="spacingAndGlyphs">−4.5</text>
<text x="1350.37" y="686.9" font-family="Liberation Sans, sans-serif" font-size="22.7" fill="#1c1c1c" textLength="52.19" lengthAdjust="spacingAndGlyphs">−4.0</text>
<text x="1497.91" y="686.9" font-family="Liberation Sans, sans-serif" font-size="22.7" fill="#1c1c1c" textLength="51.79" lengthAdjust="spacingAndGlyphs">−3.5</text>
<text x="1644.97" y="686.9" font-family="Liberation Sans, sans-serif" font-size="22.7" fill="#1c1c1c" textLength="52.19" lengthAdjust="spacingAndGlyphs">−3.0</text>
<text x="1792.51" y="686.9" font-family="Liberation Sans, sans-serif" font-size="22.7" fill="#1c1c1c" textLength="51.79" lengthAdjust="spacingAndGlyphs">−2.5</text>
<text x="1021.39" y="585.25" font-family="Liberation Sans, sans-serif" font-size="22.7" fill="#1c1c1c" textLength="34.13" lengthAdjust="spacingAndGlyphs">0.4</text>
<text x="1022.09" y="454.55" font-family="Liberation Sans, sans-serif" font-size="22.7" fill="#1c1c1c" textLength="33.73" lengthAdjust="spacingAndGlyphs">0.5</text>
<text x="1021.53" y="323.85" font-family="Liberation Sans, sans-serif" font-size="22.7" fill="#1c1c1c" textLength="34.35" lengthAdjust="spacingAndGlyphs">0.6</text>
<text x="1022.05" y="193.15" font-family="Liberation Sans, sans-serif" font-size="22.7" fill="#1c1c1c" textLength="33.98" lengthAdjust="spacingAndGlyphs">0.7</text>
<text x="1072.57" y="44.5" font-family="Liberation Sans, sans-serif" font-size="35.2" fill="#000" textLength="47.86" lengthAdjust="spacingAndGlyphs">(b)</text>
<text x="1148.03" y="45.8" font-family="Liberation Sans, sans-serif" font-size="32.4" fill="#1c1c1c" textLength="152.35" lengthAdjust="spacingAndGlyphs">Afternoon</text>
<text x="1308.18" y="45.8" font-family="Liberation Sans, sans-serif" font-size="32.4" fill="#1c1c1c" textLength="183.32" lengthAdjust="spacingAndGlyphs">(1200-1700</text>
<text x="1500.85" y="45.8" font-family="Liberation Sans, sans-serif" font-size="32.4" fill="#1c1c1c" textLength="77.67" lengthAdjust="spacingAndGlyphs">CDT)</text>
<text x="1588.73" y="45.8" font-family="Liberation Sans, sans-serif" font-size="32.4" fill="#1c1c1c" textLength="80.15" lengthAdjust="spacingAndGlyphs">ENT2</text>
<text x="1680.07" y="45.8" font-family="Liberation Sans, sans-serif" font-size="32.4" fill="#1c1c1c" textLength="113.62" lengthAdjust="spacingAndGlyphs">Scatter</text>
<text x="1303.44" y="731" font-family="Liberation Sans, sans-serif" font-size="32.4" fill="#1c1c1c" textLength="79.73" lengthAdjust="spacingAndGlyphs">ENT2</text>
<text x="1394.83" y="731" font-family="Liberation Sans, sans-serif" font-size="32.4" fill="#1c1c1c" textLength="31.11" lengthAdjust="spacingAndGlyphs">of</text>
<text x="1435.67" y="731" font-family="Liberation Sans, sans-serif" font-size="32.4" fill="#1c1c1c" textLength="20.88" lengthAdjust="spacingAndGlyphs">Δ</text>
<text x="1457.44" y="731" font-family="Liberation Sans, sans-serif" font-size="32.4" font-style="italic" fill="#1c1c1c" textLength="15.5" lengthAdjust="spacingAndGlyphs">L</text>
<text x="1471.34" y="736.4" font-family="Liberation Sans, sans-serif" font-size="22.6" font-style="italic" fill="#1c1c1c" textLength="13.38" lengthAdjust="spacingAndGlyphs">v</text>
<text x="1487.38" y="731" font-family="Liberation Sans, sans-serif" font-size="32.4" font-style="italic" fill="#1c1c1c" textLength="20.06" lengthAdjust="spacingAndGlyphs">q</text>
<text x="1507.19" y="736.4" font-family="Liberation Sans, sans-serif" font-size="22.6" font-style="italic" fill="#1c1c1c" textLength="8.63" lengthAdjust="spacingAndGlyphs">t</text>
<text x="1517.26" y="731" font-family="Liberation Sans, sans-serif" font-size="32.4" fill="#1c1c1c" textLength="10.42" lengthAdjust="spacingAndGlyphs">(</text>
<text x="1529.36" y="731" font-family="Liberation Sans, sans-serif" font-size="32.4" font-style="italic" fill="#1c1c1c" textLength="26.43" lengthAdjust="spacingAndGlyphs">kJ</text>
<text x="1562.05" y="731" font-family="Liberation Sans, sans-serif" font-size="32.4" font-style="italic" fill="#1c1c1c" textLength="35.25" lengthAdjust="spacingAndGlyphs">kg</text>
<text x="1600.63" y="720.2" font-family="Liberation Sans, sans-serif" font-size="22.6" fill="#1c1c1c" textLength="31.73" lengthAdjust="spacingAndGlyphs">−1</text>
<text x="1635.12" y="731" font-family="Liberation Sans, sans-serif" font-size="32.4" fill="#1c1c1c" textLength="10.05" lengthAdjust="spacingAndGlyphs">)</text>
<g transform="translate(994.9 526.4) rotate(-90)">
<text x="-2.27" y="0" font-family="Liberation Sans, sans-serif" font-size="32.4" fill="#1c1c1c" textLength="79.94" lengthAdjust="spacingAndGlyphs">ENT2</text>
<text x="89.45" y="0" font-family="Liberation Sans, sans-serif" font-size="32.4" fill="#1c1c1c" textLength="30.8" lengthAdjust="spacingAndGlyphs">of</text>
<text x="127.51" y="0" font-family="Liberation Sans, sans-serif" font-size="32.4" fill="#1c1c1c" textLength="22.31" lengthAdjust="spacingAndGlyphs">Δ</text>
<text x="149.65" y="0" font-family="Liberation Sans, sans-serif" font-size="32.4" font-style="italic" fill="#1c1c1c" textLength="21.59" lengthAdjust="spacingAndGlyphs">C</text>
<text x="172.41" y="5.4" font-family="Liberation Sans, sans-serif" font-size="22.6" font-style="italic" fill="#1c1c1c" textLength="13.58" lengthAdjust="spacingAndGlyphs">p</text>
<text x="182.36" y="0" font-family="Liberation Sans, sans-serif" font-size="32.4" fill="#1c1c1c" textLength="26.89" lengthAdjust="spacingAndGlyphs">Θ</text>
<text x="209.88" y="5.4" font-family="Liberation Sans, sans-serif" font-size="22.6" font-style="italic" fill="#1c1c1c" textLength="4.47" lengthAdjust="spacingAndGlyphs">l</text>
<text x="214.12" y="0" font-family="Liberation Sans, sans-serif" font-size="32.4" fill="#1c1c1c" textLength="11.68" lengthAdjust="spacingAndGlyphs">(</text>
<text x="227.52" y="0" font-family="Liberation Sans, sans-serif" font-size="32.4" font-style="italic" fill="#1c1c1c" textLength="28.65" lengthAdjust="spacingAndGlyphs">kJ</text>
<text x="260.62" y="0" font-family="Liberation Sans, sans-serif" font-size="32.4" font-style="italic" fill="#1c1c1c" textLength="36.68" lengthAdjust="spacingAndGlyphs">kg</text>
<text x="298.75" y="-10.8" font-family="Liberation Sans, sans-serif" font-size="22.6" fill="#1c1c1c" textLength="33.48" lengthAdjust="spacingAndGlyphs">−1</text>
<text x="334.41" y="0" font-family="Liberation Sans, sans-serif" font-size="32.4" fill="#1c1c1c" textLength="10.55" lengthAdjust="spacingAndGlyphs">)</text>
</g>
<rect x="1526.5" y="72.1" width="332.9" height="140.0" rx="4" ry="4" fill="#fff" fill-opacity="0.8" stroke="#ccc" stroke-opacity="0.8" stroke-width="1.8"/>
<circle cx="1556.6" cy="90.2" r="7.6" fill="#808080"/>
<path d="M1554.3 117.2h4.6v4.4h4.4v4.6h-4.4v4.4h-4.6v-4.4h-4.4v-4.6h4.4z" fill="#ffa500"/>
<circle cx="1556.6" cy="157.5" r="10.3" fill="#0000ff"/>
<path d="M1553.8 184.8h4.8v3.4h3.4v4.8h-3.4v3.4h-4.8v-3.4h-3.4v-4.8h3.4z" fill="#0000ff" stroke="#0000ff" stroke-width="1.9" stroke-linejoin="round"/>
<text x="1595.58" y="97" font-family="Liberation Sans, sans-serif" font-size="22.7" fill="#1c1c1c" textLength="64.28" lengthAdjust="spacingAndGlyphs">Full zi</text>
<text x="1596.61" y="130.8" font-family="Liberation Sans, sans-serif" font-size="22.7" fill="#1c1c1c" textLength="143.49" lengthAdjust="spacingAndGlyphs">0.1 zi - 0.5 zi</text>
<text x="1596.47" y="164.5" font-family="Liberation Sans, sans-serif" font-size="22.7" fill="#1c1c1c" textLength="173.21" lengthAdjust="spacingAndGlyphs">Slab with Full zi</text>
<text x="1596.45" y="198" font-family="Liberation Sans, sans-serif" font-size="22.7" fill="#1c1c1c" textLength="252.85" lengthAdjust="spacingAndGlyphs">Slab with 0.1 zi - 0.5 zi</text>
</g>
</svg>
</body></html>
